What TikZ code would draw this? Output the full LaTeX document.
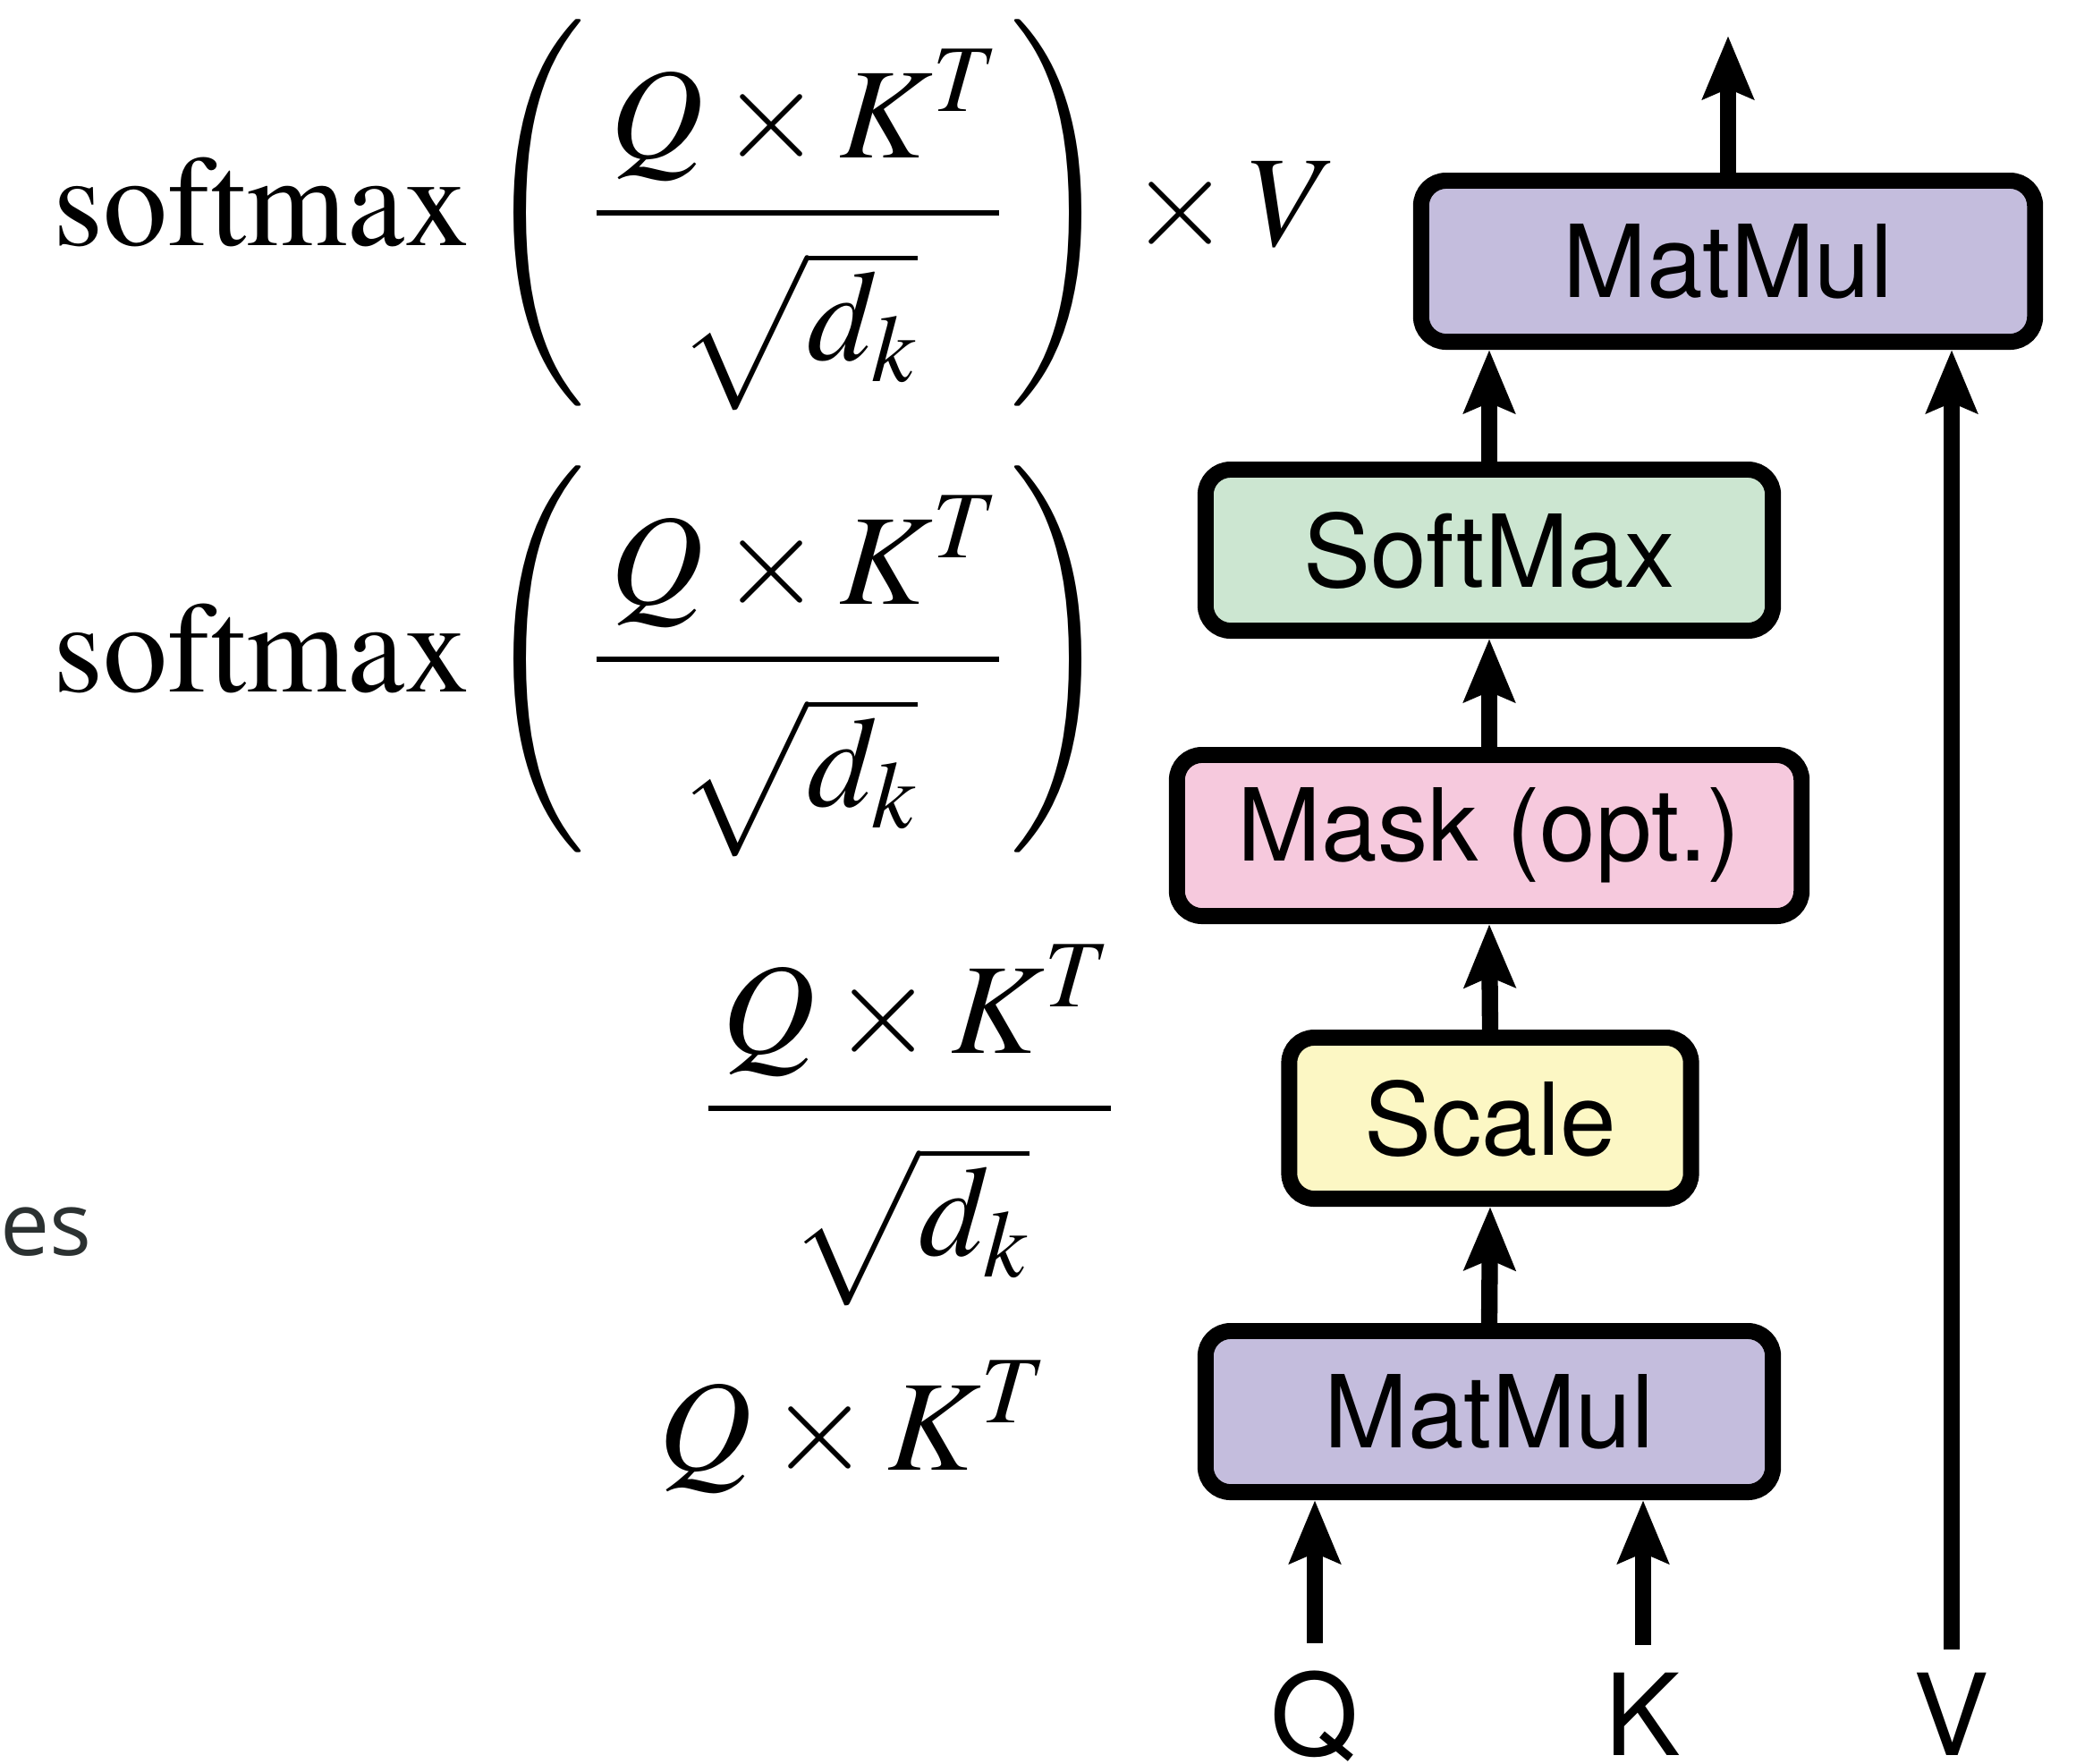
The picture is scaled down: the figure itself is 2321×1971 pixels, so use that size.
\documentclass[tikz,border=0pt]{standalone}
\usepackage{mathptmx}
\usepackage[no-math]{fontspec}
\setmainfont{Liberation Serif}
\newfontfamily\boxfont{TeX Gyre Heros}
\newfontfamily\esfont{Open Sans}
\usetikzlibrary{arrows.meta,calc}
\definecolor{mmfill}{HTML}{C4BDDD}
\definecolor{smfill}{HTML}{CCE6D1}
\definecolor{mkfill}{HTML}{F6C9DD}
\definecolor{scfill}{HTML}{FCF7C4}
\definecolor{estext}{HTML}{2B3131}
\newcommand{\rootdk}{\rule{0pt}{1.0em}\sqrt{\rule[-0.36em]{0pt}{1.03em}d_k}}
\newcommand{\qkfrac}{\frac{\mkern2mu Q\times K^{T}}{\rootdk}}
\begin{document}
\begin{tikzpicture}[x=0.01cm,y=-0.01cm,
  opbox/.style={draw=black, line width=5.1pt, rounded corners=0.28cm, inner sep=0pt,
    minimum height=1.80cm, font=\boxfont\fontsize{32}{38}\selectfont},
  flow/.style={line width=5.2pt, -{Stealth[length=0.70cm,width=0.56cm,inset=0.11cm]}},
  inlabel/.style={font=\boxfont\fontsize{36}{42}\selectfont, inner sep=0pt, anchor=base},
  formula/.style={inner sep=0pt, font=\fontsize{41}{49}\selectfont}]
\useasboundingbox (0,0) rectangle (2321,1971);
\fill[white] (0,0) rectangle (2321,1971);
% boxes
\node[opbox, fill=mmfill, minimum width=6.86cm] (mm2) at (1932,292) {MatMul};
\node[opbox, fill=smfill, minimum width=6.34cm] (sm) at (1665,615) {SoftMax};
\node[opbox, fill=mkfill, minimum width=6.98cm] (mk) at (1665,934) {Mask (opt.)};
\node[opbox, fill=scfill, minimum width=4.49cm] (sc) at (1666,1250) {Scale};
\node[opbox, fill=mmfill, minimum width=6.34cm] (mm1) at (1665,1578) {MatMul};
% inputs
\node[inlabel] (q) at (1470,1962) {Q};
\node[inlabel] (k) at (1837,1962) {K};
\node[inlabel] (v) at (2182,1962) {V};
\coordinate (out) at (1932,40);
% connectors
\draw[flow] ([yshift=0.3cm]q.north) -- (q.north |- mm1.south);
\draw[flow] ([yshift=0.3cm]k.north) -- (k.north |- mm1.south);
\draw[flow] ([yshift=0.25cm]v.north) -- (v.north |- mm2.south);
\draw[flow] (mm1.north) -- (sc.south);
\draw[flow] (sc.north) -- (mk.south);
\draw[flow] (mk.north) -- (sm.south);
\draw[flow] (sm.north) -- (sm.north |- mm2.south);
\draw[flow] (mm2.north) -- (out);
% formulas
\node[formula, anchor=base west] (f1) at (59,274)
  {$\displaystyle \mathrm{softmax}\left(\mkern1mu\qkfrac\mkern1mu\right)\times V$};
\node[formula, anchor=base west] (f2) at (59,773)
  {$\displaystyle \mathrm{softmax}\left(\mkern1mu\qkfrac\mkern1mu\right)$};
\node[formula, anchor=base] (f3) at (1017,1275)
  {$\displaystyle \qkfrac$};
\node[formula, anchor=base west] (f4) at (736,1643) {$Q\times K^{T}$};
\node[anchor=base west, inner sep=0pt, font=\esfont\fontsize{28}{33}\selectfont, text=estext] (es) at (0,1403) {es};
\end{tikzpicture}
\end{document}
